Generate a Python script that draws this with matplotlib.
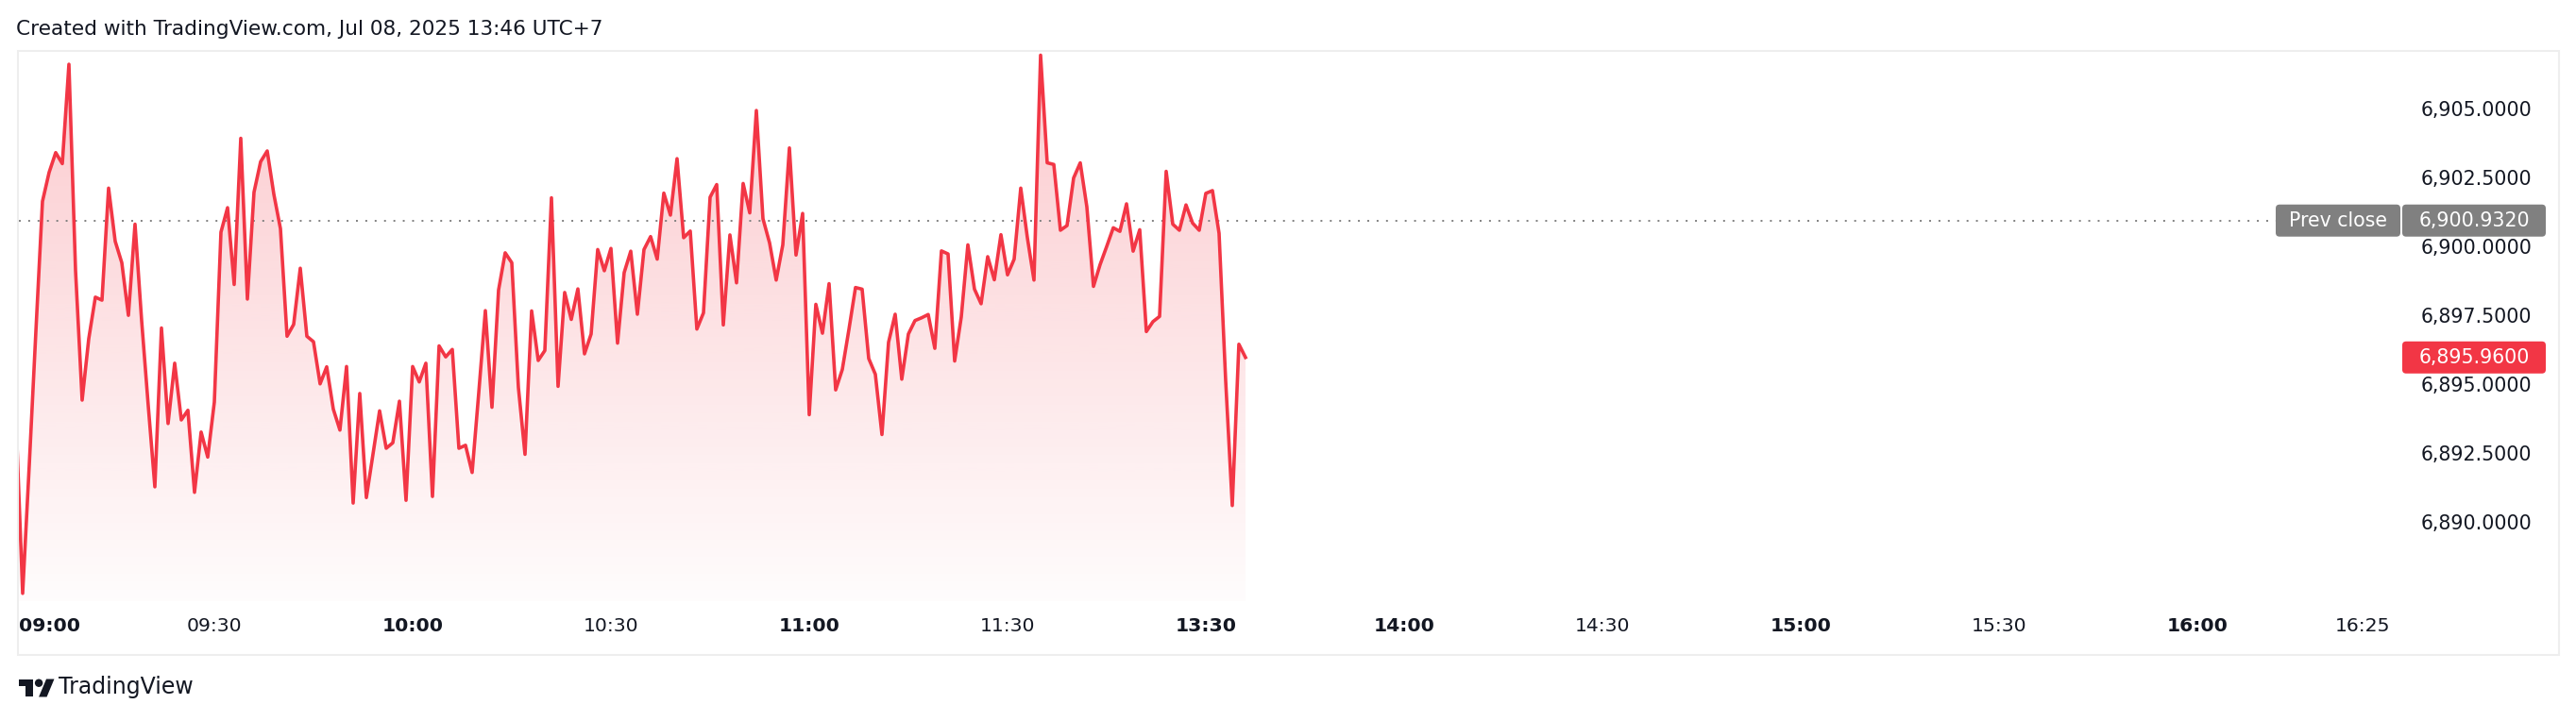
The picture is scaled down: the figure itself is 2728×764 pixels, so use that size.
import numpy as np
import matplotlib
matplotlib.use("Agg")
import matplotlib.pyplot as plt
from matplotlib.patches import FancyBboxPatch, Rectangle, Polygon, Circle
from matplotlib.colors import to_rgb

W, H = 2728, 764

# one-minute closes, 09:00 -> 11:29 then afternoon session (lunch gap collapsed)
prices = [
    6893.70, 6887.39, 6892.05, 6896.90, 6901.63, 6902.68, 6903.40, 6903.00, 6906.61, 6899.13,
    6894.41, 6896.64, 6898.15, 6898.04, 6902.11, 6900.18, 6899.40, 6897.49, 6900.80, 6897.30,
    6894.21, 6891.26, 6897.03, 6893.56, 6895.75, 6893.69, 6894.04, 6891.06, 6893.25, 6892.34,
    6894.34, 6900.51, 6901.40, 6898.61, 6903.92, 6898.08, 6901.96, 6903.07, 6903.46, 6901.89,
    6900.64, 6896.73, 6897.16, 6899.20, 6896.73, 6896.53, 6895.00, 6895.62, 6894.08, 6893.32,
    6895.63, 6890.67, 6894.65, 6890.87, 6892.44, 6894.02, 6892.66, 6892.86, 6894.37, 6890.77,
    6895.63, 6895.07, 6895.75, 6890.91, 6896.38, 6895.98, 6896.25, 6892.66, 6892.77, 6891.78,
    6894.67, 6897.66, 6894.15, 6898.41, 6899.76, 6899.40, 6894.87, 6892.44, 6897.65, 6895.85,
    6896.21, 6901.76, 6894.91, 6898.32, 6897.34, 6898.45, 6896.09, 6896.81, 6899.88, 6899.11,
    6899.92, 6896.48, 6899.04, 6899.82, 6897.53, 6899.88, 6900.35, 6899.53, 6901.93, 6901.13,
    6903.18, 6900.31, 6900.55, 6896.99, 6897.58, 6901.78, 6902.24, 6897.14, 6900.41, 6898.67,
    6902.28, 6901.21, 6904.93, 6901.00, 6900.12, 6898.77, 6900.05, 6903.57, 6899.68, 6901.19,
    6893.88, 6897.89, 6896.84, 6898.64, 6894.78, 6895.52, 6896.97, 6898.50, 6898.44, 6895.92,
    6895.35, 6893.16, 6896.51, 6897.53, 6895.17, 6896.81, 6897.30, 6897.40, 6897.52, 6896.29,
    6899.83, 6899.72, 6895.83, 6897.43, 6900.05, 6898.44, 6897.91, 6899.62, 6898.78, 6900.42,
    6898.96, 6899.53, 6902.11, 6900.31, 6898.77, 6906.94, 6903.03, 6902.97, 6900.58, 6900.75,
    6902.48, 6903.03, 6901.43, 6898.54, 6899.33, 6899.99, 6900.67, 6900.54, 6901.54, 6899.82,
    6900.60, 6896.90, 6897.26, 6897.45, 6902.72, 6900.80, 6900.58, 6901.50, 6900.84, 6900.58,
    6901.92, 6902.02, 6900.47, 6895.13, 6890.58, 6896.44, 6895.96,
]
prev_close = 6900.932
last_price = 6895.96

tick_pos = [0.5, 30, 60, 90, 120, 150, 180, 210, 240, 270, 300, 330, 355]
tick_labels = ["09:00", "09:30", "10:00", "10:30", "11:00", "11:30", "13:30",
               "14:00", "14:30", "15:00", "15:30", "16:00", "16:25"]
tick_bold = [1, 0, 1, 0, 1, 0, 1, 1, 0, 1, 0, 1, 0]
price_ticks = [6890.0, 6892.5, 6895.0, 6897.5, 6900.0, 6902.5, 6905.0]

RED = "#f23645"
GREY = "#808080"
TXT = "#131722"

plt.rcParams["font.family"] = ["DejaVu Sans"]

fig = plt.figure(figsize=(W / 100, H / 100), dpi=100)
fig.patch.set_facecolor("white")


def fx(px):
    return px / W


def fy(py):
    return 1 - py / H


# outer light frame
fig.patches.append(Rectangle((fx(19), fy(694)), fx(2710) - fx(19), fy(54) - fy(694),
                             transform=fig.transFigure, fill=False,
                             edgecolor="#eeeeee", lw=1.5))

ax = fig.add_axes([fx(20), fy(637), fx(2543) - fx(20), fy(54) - fy(637)])
for s in ax.spines.values():
    s.set_visible(False)

# axes ticks (set before the limits: set_xticks may widen the view)
ax.set_xticks(tick_pos, tick_labels)
ax.tick_params(axis="x", length=0, pad=12.5, labelsize=14.7, labelcolor=TXT)
for lab, b in zip(ax.get_xticklabels(), tick_bold):
    if b:
        lab.set_fontweight("bold")
ax.get_xticklabels()[0].set_ha("left")

ax.yaxis.tick_right()
ax.set_yticks(price_ticks, [f"{v:,.4f}" for v in price_ticks])
ax.tick_params(axis="y", length=0, pad=15, labelsize=14.8, labelcolor=TXT)

ax.set_xlim(0.43, 360.86)
ax.set_ylim(6887.107, 6907.093)

x = np.arange(len(prices))
y0, y1 = ax.get_ylim()
x0, x1 = ax.get_xlim()

# gradient area
poly = ax.fill_between(x, prices, y0, color="none", lw=0)
grad = np.zeros((256, 1, 4))
grad[..., :3] = to_rgb(RED)
grad[:, 0, 3] = np.linspace(0.015, 0.27, 256)
img = ax.imshow(grad, extent=[x0, x1, y0, y1], origin="lower", aspect="auto",
                interpolation="bilinear", zorder=1)
img.set_clip_path(poly.get_paths()[0], transform=ax.transData)

ax.plot(x, prices, color=RED, lw=2.6, solid_joinstyle="round", zorder=3)
ax.axhline(prev_close, color=GREY, lw=1.4, linestyle=(0, (1, 4.1)), zorder=2)
ax.set_xlim(x0, x1)
ax.set_ylim(y0, y1)


def tag(x_left, x_right, value, color, text):
    yc = ax.transData.transform((0, value))[1]
    h = 34
    box = FancyBboxPatch((fx(x_left), (yc - h / 2) / H), fx(x_right) - fx(x_left), h / H,
                         boxstyle="round,pad=0,rounding_size=0.0015",
                         mutation_aspect=W / H, transform=fig.transFigure,
                         facecolor=color, edgecolor="none", zorder=5)
    fig.patches.append(box)
    fig.text(fx((x_left + x_right) / 2), yc / H, text, ha="center", va="center",
             color="white", fontsize=14.8, zorder=6)


tag(2410, 2542, prev_close, GREY, "Prev close")
tag(2544, 2696, prev_close, GREY, f"{prev_close:,.4f}")
tag(2544, 2696, last_price, RED, f"{last_price:,.4f}")

fig.text(fx(17), fy(31), "Created with TradingView.com, Jul 08, 2025 13:46 UTC+7",
         ha="left", va="center", fontsize=15.6, color=TXT)

# TradingView logo mark
lax = fig.add_axes([fx(20), fy(739), fx(58) - fx(20), fy(719) - fy(739)])
lax.set_xlim(0, 36)
lax.set_ylim(22.5, 3.5)
lax.axis("off")
lax.add_patch(Polygon([(0, 4), (14, 4), (14, 22), (7, 22), (7, 11), (0, 11)],
                      closed=True, color=TXT, lw=0))
lax.add_patch(Circle((20, 8), 4, color=TXT, lw=0))
lax.add_patch(Polygon([(20, 22), (27.5, 4), (35.5, 4), (28, 22)],
                      closed=True, color=TXT, lw=0))
fig.text(fx(62), fy(728), "TradingView", ha="left", va="center",
         fontsize=17, color=TXT)

fig.savefig("out.png", dpi=100)
